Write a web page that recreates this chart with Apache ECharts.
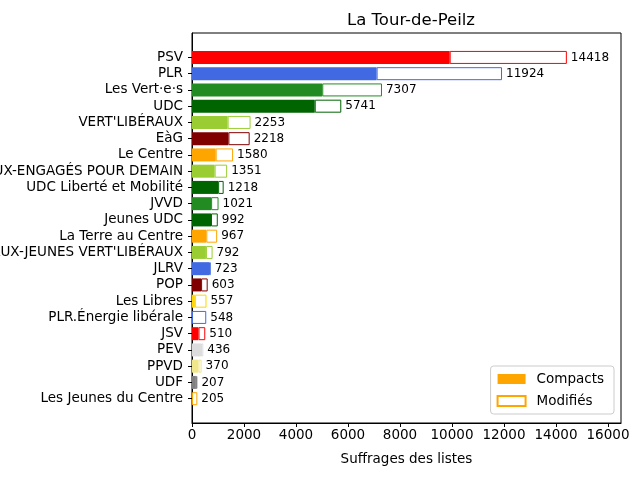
<!DOCTYPE html>
<html>
<head>
<meta charset="utf-8">
<script src="https://cdn.jsdelivr.net/npm/echarts@6/dist/echarts.min.js"></script>
<style>
  html, body { margin: 0; padding: 0; background: #fff; }
  #main { width: 640px; height: 480px; }
</style>
</head>
<body>
<div id="main"></div>
<script>
var listes = [
  'PSV', 'PLR', 'Les Vert·e·s', 'UDC', "VERT'LIBÉRAUX", 'EàG', 'Le Centre',
  "VERT'LIBÉRAUX-ENGAGÉS POUR DEMAIN", 'UDC Liberté et Mobilité', 'JVVD',
  'Jeunes UDC', 'La Terre au Centre', "VERT'LIBÉRAUX-JEUNES VERT'LIBÉRAUX",
  'JLRV', 'POP', 'Les Libres', 'PLR.Énergie libérale', 'JSV', 'PEV', 'PPVD',
  'UDF', 'Les Jeunes du Centre'
];
var compacts = [9910, 7100, 5010, 4720, 1370, 1400, 910, 870, 1005, 735,
  730, 550, 535, 655, 350, 110, 0, 250, 345, 250, 150, 0];
var modifies = [4508, 4824, 2297, 1021, 883, 818, 670, 481, 213, 286,
  262, 417, 257, 68, 253, 447, 548, 260, 91, 120, 57, 205];
var couleurs = ['#ff0000', '#4169e1', '#228b22', '#006400', '#9acd32', '#800000',
  '#ffa500', '#9acd32', '#006400', '#228b22', '#006400', '#ffa500', '#9acd32',
  '#4169e1', '#800000', '#ffd700', '#4169e1', '#ff0000', '#dcdcdc', '#f0e68c',
  '#808080', '#ffa500'];
var xTicks = { min: 0, max: 16500, interval: 2000 };

var chartDom = document.getElementById('main');
var myChart = echarts.init(chartDom);
var font = 'DejaVu Sans';

var option = {
  animation: false,
  textStyle: { fontFamily: font },
  title: {
    text: 'La Tour-de-Peilz',
    left: 406,
    top: 7,
    textAlign: 'center',
    textStyle: { fontFamily: font, fontSize: 16.5, fontWeight: 'normal', color: '#000' }
  },
  legend: {
    orient: 'vertical',
    right: 26,
    bottom: 66,
    icon: 'rect',
    itemWidth: 28,
    itemHeight: 10,
    itemGap: 8,
    padding: [6, 10, 6, 6],
    backgroundColor: '#fff',
    borderColor: '#cccccc',
    borderWidth: 1,
    borderRadius: 3,
    textStyle: { fontFamily: font, fontSize: 13.5, color: '#000', padding: [0, 0, 0, 6] },
    data: ['Compacts', 'Modifiés']
  },
  grid: [
    { left: 192, right: 19, top: 33, bottom: 57, show: true, borderColor: '#000', borderWidth: 1,
      outerBoundsMode: 'none', containLabel: false },
    { left: 192, right: 19, top: 49.3, bottom: 73.2, outerBoundsMode: 'none', containLabel: false }
  ],
  xAxis: [
    {
      gridIndex: 0, type: 'value',
      min: xTicks.min, max: xTicks.max, interval: xTicks.interval,
      name: 'Suffrages des listes', nameLocation: 'middle', nameGap: 29,
      nameTextStyle: { fontFamily: font, fontSize: 13.5, color: '#000' },
      axisLine: { show: true, lineStyle: { color: '#000', width: 1 } },
      axisTick: { show: true, length: 4, lineStyle: { color: '#000' } },
      axisLabel: {
        fontFamily: font, fontSize: 13.5, color: '#000', margin: 5,
        formatter: function (v) { return String(v); }
      },
      splitLine: { show: false }
    },
    {
      gridIndex: 1, type: 'value', min: xTicks.min, max: xTicks.max, show: false
    }
  ],
  yAxis: [
    {
      gridIndex: 0, type: 'value', min: 0, max: 1,
      axisLine: { show: true, lineStyle: { color: '#000' } },
      axisTick: { show: false }, axisLabel: { show: false }, splitLine: { show: false }
    },
    {
      gridIndex: 1, type: 'category', inverse: true, data: listes,
      axisLine: { show: false },
      axisTick: { show: true, alignWithLabel: true, interval: 0, length: 4, lineStyle: { color: '#000' } },
      axisLabel: { fontFamily: font, fontSize: 13.5, color: '#000', margin: 9, interval: 0 }
    }
  ],
  series: [
    {
      name: 'Compacts', type: 'bar', stack: 'total',
      xAxisIndex: 1, yAxisIndex: 1,
      barCategoryGap: '20%',
      itemStyle: { color: '#ffa500' },
      data: compacts.map(function (v, i) {
        return { value: v, itemStyle: { color: couleurs[i] } };
      })
    },
    {
      name: 'Modifiés', type: 'bar', stack: 'total',
      xAxisIndex: 1, yAxisIndex: 1,
      barCategoryGap: '20%',
      itemStyle: { color: '#fff', borderColor: '#ffa500', borderWidth: 1 },
      label: {
        show: true, position: 'right', distance: 4,
        fontFamily: font, fontSize: 12, color: '#000',
        formatter: function (p) { return String(compacts[p.dataIndex] + modifies[p.dataIndex]); }
      },
      data: modifies.map(function (v, i) {
        return { value: v, itemStyle: { color: '#fff', borderColor: couleurs[i], borderWidth: 1 } };
      })
    }
  ]
};

option && myChart.setOption(option);
</script>
</body>
</html>
